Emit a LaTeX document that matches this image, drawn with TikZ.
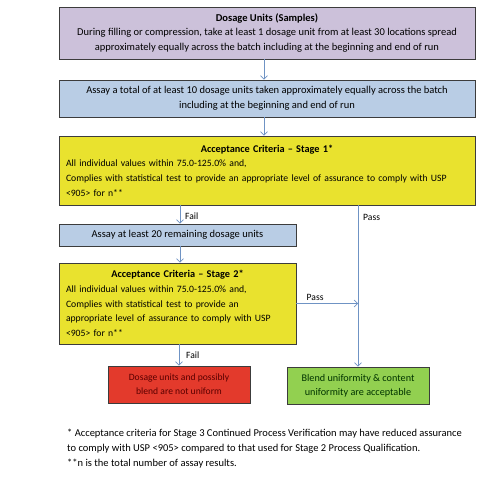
\documentclass[tikz,border=0pt]{standalone}
\usepackage{fontspec}
\setmainfont{Carlito}
\usetikzlibrary{arrows.meta,positioning,calc}

\definecolor{boxline}{HTML}{3C3C3C}
\definecolor{arrowline}{HTML}{6F93C4}
\definecolor{lilac}{HTML}{CCC1DA}
\definecolor{paleblue}{HTML}{B9CDE5}
\definecolor{crityellow}{HTML}{E9E22E}
\definecolor{failred}{HTML}{E33A2C}
\definecolor{passgreen}{HTML}{92D050}

\newcommand{\crittitle}[1]{{\centering\fontsize{10.3}{14.7}\selectfont\textbf{#1}\par}}

\begin{document}
\begin{tikzpicture}[x=1pt,y=-1pt,
	font=\fontsize{10.5}{14.7}\selectfont,
	stepbox/.style={draw=boxline,line width=0.9pt,inner sep=0pt,align=center},
	critbox/.style={stepbox,fill=crityellow,align=left,inner xsep=7pt,font=\fontsize{9.7}{14.7}\selectfont},
	flow/.style={draw=arrowline,line width=0.6pt,-{Straight Barb[length=3.5pt,width=7pt]}},
	flowlabel/.style={font=\fontsize{9.6}{12}\selectfont,inner sep=2pt}]
	\useasboundingbox (0,0) rectangle (491,492);
	\node[stepbox,fill=lilac,minimum width=416pt,minimum height=52pt] (units) at (267,33)
		{\textbf{Dosage Units (Samples)}\\During filling or compression, take at least 1 dosage unit from at least 30 locations spread\\approximately equally across the batch including at the beginning and end of run};
	\node[stepbox,fill=paleblue,minimum width=416pt,minimum height=37pt] (assay1) at (267,98.5)
		{Assay a total of at least 10 dosage units taken approximately equally across the batch\\including at the beginning and end of run};
	\node[critbox,text width=402pt,minimum height=69pt] (stage1) at (267,170.5)
		{\crittitle{Acceptance Criteria -- Stage 1*}
		All individual values within 75.0-125.0\% and,\\Complies with statistical test to provide an appropriate level of assurance to comply with USP\\<905> for n**};
	\node[stepbox,fill=paleblue,minimum width=237pt,minimum height=22pt] (assay2) at (177.5,235)
		{Assay at least 20 remaining dosage units};
	\node[critbox,text width=223pt,minimum height=81pt] (stage2) at (177.5,303.5)
		{\crittitle{Acceptance Criteria -- Stage 2*}
		All individual values within 75.0-125.0\% and,\\Complies with statistical test to provide an\\appropriate level of assurance to comply with USP\\<905> for n**};
	\node[stepbox,fill=failred,text=red!35!black,minimum width=142pt,minimum height=37pt,font=\fontsize{9.6}{14.3}\selectfont] (notuniform) at (179,384.5)
		{Dosage units and possibly\\blend are not uniform};
	\node[stepbox,fill=passgreen,text=green!20!black,minimum width=142pt,minimum height=37pt,font=\fontsize{10.2}{14.3}\selectfont] (uniform) at (358,385.5)
		{Blend uniformity \& content\\uniformity are acceptable};
	\node[anchor=north west,align=left,inner sep=0pt] (notes) at (67,429)
		{* Acceptance criteria for Stage 3 Continued Process Verification may have reduced assurance\\to comply with USP <905> compared to that used for Stage 2 Process Qualification.\\**n is the total number of assay results.};
	% connectors
	\coordinate (failx) at ($(assay2.north)+(2.5,0)$);
	\draw[flow] ($(units.south)+(-3,0)$) -- ($(assay1.north)+(-3,0)$);
	\draw[flow] ($(assay1.south)+(-3,0)$) -- ($(stage1.north)+(-3,0)$);
	\draw[flow] (failx |- stage1.south) -- (failx);
	\draw[flow] ($(assay2.south)+(2.5,0)$) -- ($(stage2.north)+(2.5,0)$);
	\draw[flow] (uniform.north |- stage1.south) -- (uniform.north);
	\coordinate (join) at (uniform.north |- stage2.east);
	\draw[flow] (stage2.east) -- (join);
	\draw[flow] (notuniform.north |- stage2.south) -- (notuniform.north);
	% labels
	\node[flowlabel,anchor=west] at ($(failx)+(3,-7)$) {Fail};
	\node[flowlabel,anchor=west] at ($(uniform.north |- stage1.south)+(3,12)$) {Pass};
	\node[flowlabel,anchor=south west] at ($(stage2.east)+(8,-1)$) {Pass};
	\node[flowlabel,anchor=west] at ($(notuniform.north)+(5,-10)$) {Fail};
\end{tikzpicture}
\end{document}
